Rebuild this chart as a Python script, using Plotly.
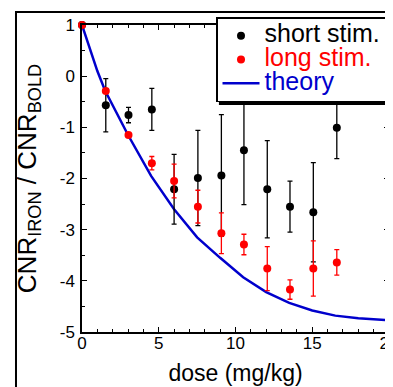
import plotly.graph_objects as go

# ---- data ----
dose = [0, 1.55, 3.03, 4.55, 6.0, 7.55, 9.08, 10.55, 12.07, 13.55, 15.07, 16.6]
short_stim = [1, -0.57, -0.76, -0.65, -2.21, -1.99, -1.94, -1.45, -2.21, -2.55, -2.66, -1.01]
short_err = [0, 0.52, 0.15, 0.41, 0.68, 0.93, 1.19, 1.06, 0.95, 0.5, 0.97, 0.6]
long_stim = [1, -0.29, -1.15, -1.7, -2.05, -2.55, -3.07, -3.29, -3.76, -4.17, -3.76, -3.64]
long_err = [0, 0, 0, 0.13, 0.33, 0.32, 0.4, 0.2, 0.43, 0.19, 0.54, 0.25]
theory_dose = [0, 1.0, 1.5, 3.0, 4.5, 6.0, 7.5, 9.0, 10.5, 12.0, 13.5, 15.0, 16.5, 18.0, 20.0]
theory_val = [1, 0.1, -0.28, -1.15, -1.95, -2.6, -3.15, -3.55, -3.93, -4.22, -4.43, -4.58, -4.68, -4.73, -4.77]

x_ticks = [0, 5, 10, 15, 20]
y_ticks = [-5, -4, -3, -2, -1, 0, 1]

FONT = "Liberation Sans, Arial, Helvetica, sans-serif"
LEG_STYLE = "font-size:25px"

fig = go.Figure()
fig.add_trace(go.Scatter(
    x=theory_dose, y=theory_val, mode="lines",
    line=dict(color="#0000CC", width=2.5),
    name=f'<span style="color:#0000CC;{LEG_STYLE}">theory</span>', legendrank=3,
))
fig.add_trace(go.Scatter(
    x=dose, y=short_stim, mode="markers", cliponaxis=False,
    marker=dict(color="black", size=8),
    error_y=dict(type="data", array=short_err, color="black", thickness=1.3, width=2.5),
    name=f'<span style="color:black;{LEG_STYLE}">short stim.</span>', legendrank=1,
))
fig.add_trace(go.Scatter(
    x=dose, y=long_stim, mode="markers", cliponaxis=False,
    marker=dict(color="#FF0000", size=8),
    error_y=dict(type="data", array=long_err, color="#FF0000", thickness=1.3, width=2.5),
    name=f'<span style="color:#FF0000;{LEG_STYLE}">long stim.</span>', legendrank=2,
))

axis_common = dict(
    showline=True, linecolor="black", linewidth=1.5, mirror="ticks",
    ticks="inside", ticklen=5, tickcolor="black", tickwidth=1,
    showgrid=False, zeroline=False, automargin=False,
    ticklabeloverflow="allow",
    tickfont=dict(family=FONT, size=17, color="black"),
    minor=dict(ticks="inside", ticklen=3, tickcolor="black", tickwidth=1),
)

fig.update_xaxes(
    range=[0, 20], tickvals=x_ticks, ticktext=[str(v) for v in x_ticks],
    title=dict(text="dose (mg/kg)", font=dict(family=FONT, size=23, color="black"), standoff=13),
    ticklabelstandoff=-5,
    **axis_common,
)
fig.update_xaxes(minor_dtick=1)
fig.update_yaxes(
    range=[-5, 1], tickvals=y_ticks, ticktext=[str(v) for v in y_ticks],
    title=dict(text="CNR<sub>IRON</sub> / CNR<sub>BOLD</sub>", font=dict(family=FONT, size=26, color="black"), standoff=16),
    ticklabelstandoff=2,
    **axis_common,
)
fig.update_yaxes(minor_dtick=0.5)

# outer figure frame (partially visible)
fig.add_shape(type="rect", xref="paper", yref="paper",
              x0=-0.215, x1=1.6, y0=-0.6, y1=1.042,
              line=dict(color="black", width=2), layer="below")
# legend drop shadow
fig.add_shape(type="rect", xref="paper", yref="paper",
              x0=0.446, x1=1.0114, y0=0.7394, y1=1.0147,
              line=dict(width=0), fillcolor="black", layer="above")

# page body has an 8px margin: figure is laid out so the plot lands where the reference's does
fig.update_layout(
    width=385, height=379,
    margin=dict(l=74, r=4, t=17, b=55, autoexpand=False),
    paper_bgcolor="white", plot_bgcolor="white",
    font=dict(family=FONT, color="black"),
    legend=dict(
        x=0.4365, y=1.025, xanchor="left", yanchor="top",
        bgcolor="white", bordercolor="black", borderwidth=1.5,
        font=dict(family=FONT, size=16),
        traceorder="normal", itemwidth=37, tracegroupgap=0,
    ),
)
fig.write_html("out.html")
